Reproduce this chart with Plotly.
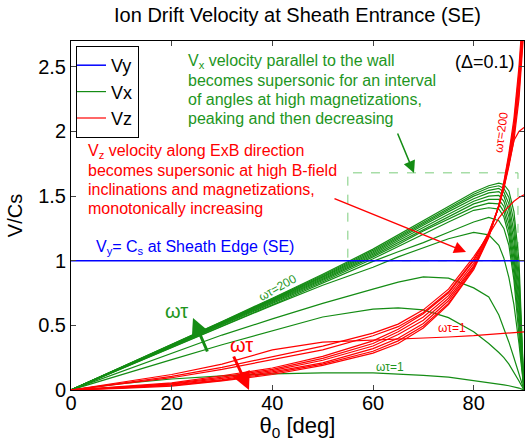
import plotly.graph_objects as go

# ---------------- data ----------------
theta = [0, 10, 20, 30, 40, 50, 60, 65, 70, 75, 80, 83, 85, 86, 87, 88, 89, 90]

# Vx (green) for several magnetizations omega*tau
vx_wt1   = [0, .05, .085, .11, .125, .133, .132, .125, .113, .10, .075, .058, .046, .04, .033, .025, .015, 0]
vx_wt2   = [0, .12, .235, .35, .455, .565, .625, .635, .62, .56, .45, .36, .29, .25, .20, .14, .07, 0]
vx_wt3   = [0, .14, .285, .425, .55, .67, .78, .835, .875, .865, .79, .72, .58, .48, .37, .25, .13, 0]
vx_wt5   = [0, .165, .33, .49, .655, .81, .95, 1.03, 1.10, 1.17, 1.22, 1.20, 1.12, 1.02, .87, .66, .36, 0]
vx_wt7   = [0, .167, .33, .495, .66, .825, .995, 1.07, 1.14, 1.22, 1.30, 1.335, 1.31, 1.25, 1.12, .85, .45, 0]
vx_wt10  = [0, .168, .334, .502, .67, .838, 1.015, 1.11, 1.21, 1.30, 1.39, 1.41, 1.40, 1.34, 1.19, .90, .50, 0]
vx_wt15  = [0, .169, .337, .507, .677, .847, 1.03, 1.125, 1.23, 1.325, 1.415, 1.445, 1.44, 1.38, 1.24, .96, .56, 0]
vx_wt20  = [0, .170, .34, .512, .684, .856, 1.04, 1.14, 1.245, 1.345, 1.44, 1.475, 1.475, 1.42, 1.29, 1.02, .62, 0]
vx_wt30  = [0, .171, .342, .516, .69, .865, 1.05, 1.155, 1.26, 1.36, 1.46, 1.50, 1.505, 1.46, 1.34, 1.08, .68, 0]
vx_wt50  = [0, .172, .344, .52, .695, .873, 1.06, 1.17, 1.275, 1.38, 1.48, 1.525, 1.535, 1.50, 1.39, 1.15, .75, 0]
vx_wt70  = [0, .173, .346, .524, .70, .88, 1.07, 1.18, 1.29, 1.395, 1.50, 1.545, 1.56, 1.53, 1.44, 1.22, .82, 0]
vx_wt100 = [0, .174, .348, .527, .705, .888, 1.08, 1.19, 1.30, 1.41, 1.515, 1.565, 1.58, 1.56, 1.49, 1.30, .90, 0]
vx_wt200 = [0, .175, .35, .53, .71, .895, 1.09, 1.20, 1.31, 1.42, 1.53, 1.58, 1.60, 1.59, 1.54, 1.38, 1.00, 0]

# Vz (red)
vz_wt1   = [0, .06, .12, .20, .31, .37, .385, .39, .40, .41, .42, .43, .435, .44, .443, .446, .448, .45]
vz_wt2   = [0, .055, .105, .175, .26, .34, .44, .51, .62, .78, 1.03, 1.20, 1.33, 1.38, 1.42, 1.46, 1.49, 1.51]
vz_wt3   = [0, .05, .095, .16, .235, .31, .42, .49, .60, .76, 1.01, 1.21, 1.42, 1.57, 1.75, 1.93, 2.0, 2.03]
vz_wt5   = [0, .025, .055, .11, .17, .26, .38, .47, .59, .75, 1.00, 1.22, 1.42, 1.56, 1.73, 1.93, 2.25, 2.8]
vz_wt10  = [0, .022, .05, .10, .16, .245, .36, .45, .565, .73, .98, 1.21, 1.42, 1.57, 1.75, 1.97, 2.30, 2.85]
vz_wt20  = [0, .02, .045, .09, .15, .23, .34, .43, .54, .71, .96, 1.20, 1.42, 1.58, 1.77, 2.00, 2.35, 2.9]
vz_wt50  = [0, .017, .04, .08, .14, .21, .32, .40, .515, .69, .95, 1.19, 1.42, 1.59, 1.79, 2.03, 2.40, 2.95]
vz_wt100 = [0, .015, .035, .075, .13, .20, .30, .38, .495, .67, .94, 1.19, 1.43, 1.60, 1.81, 2.06, 2.45, 3.0]
vz_wt200 = [0, .012, .03, .07, .12, .19, .285, .36, .48, .66, .93, 1.18, 1.43, 1.61, 1.83, 2.10, 2.50, 3.05]

# Vy (blue)
vy_theta = [0, 90]
vy_values = [1.0, 1.0]

vx_series = [vx_wt1, vx_wt2, vx_wt3, vx_wt5, vx_wt7, vx_wt10, vx_wt15, vx_wt20,
             vx_wt30, vx_wt50, vx_wt70, vx_wt100, vx_wt200]
vz_series = [vz_wt1, vz_wt2, vz_wt3, vz_wt5, vz_wt10, vz_wt20, vz_wt50, vz_wt100, vz_wt200]

# ---------------- styling ----------------
GREEN = 'rgb(20,140,20)'
GREEN_TXT = 'rgb(30,150,30)'
RED = 'rgb(255,0,0)'
BLUE = 'rgb(0,0,255)'
FONT = 'Arial, Liberation Sans, Helvetica, sans-serif'

# plot area geometry in pixels (for placing annotations)
L, T, W, H = 71, 41, 453, 349
XMAX, YMAX = 90, 2.7


def px(xp):
    return (xp - L) / W * XMAX


def py(yp):
    return (T + H - yp) / H * YMAX


fig = go.Figure()

for i, s in enumerate(vx_series):
    fig.add_trace(go.Scatter(x=theta, y=s, mode='lines', name='Vx',
                             line=dict(color=GREEN, width=1.2),
                             legendgroup='vx', showlegend=(i == 0), legendrank=2))
for i, s in enumerate(vz_series):
    fig.add_trace(go.Scatter(x=theta, y=s, mode='lines', name='Vz',
                             line=dict(color=RED, width=1.2),
                             legendgroup='vz', showlegend=(i == 0), legendrank=3))
fig.add_trace(go.Scatter(x=vy_theta, y=vy_values, mode='lines', name='Vy',
                         line=dict(color=BLUE, width=1.5), legendrank=1))

# dashed box
fig.add_shape(type='rect', x0=55.0, x1=88.8, y0=1.0, y1=1.68, xref='x', yref='y',
              line=dict(color='rgba(110,200,110,0.9)', width=1, dash='dash'), layer='below')

ann = []


def text(xp, yp, t, color, size, xanchor='left', angle=0):
    ann.append(dict(x=px(xp), y=py(yp), xref='x', yref='y', text=t, showarrow=False,
                    xanchor=xanchor, yanchor='middle', textangle=angle,
                    font=dict(color=color, size=size, family=FONT)))


green_lines = ['V<sub>x</sub> velocity parallel to the wall',
               'becomes supersonic for an interval',
               'of angles at high magnetizations,',
               'peaking and then decreasing']
for t, yp in zip(green_lines, [61, 80, 99, 118]):
    text(186, yp, t, GREEN_TXT, 16)

red_lines = ['V<sub>z</sub> velocity along ExB direction',
             'becomes supersonic at high B-field',
             'inclinations and magnetizations,',
             'monotonically increasing']
for t, yp in zip(red_lines, [151, 170, 189, 208]):
    text(86, yp, t, RED, 16)

text(94, 247, 'V<sub>y</sub>= C<sub>s</sub> at Sheath Edge (SE)', BLUE, 16)
text(485, 62, '(Δ=0.1)', 'black', 18, xanchor='center')

text(277, 288, 'ωτ=200', GREEN_TXT, 12, xanchor='center', angle=-29)
text(390, 367, 'ωτ=1', GREEN_TXT, 12, xanchor='center')
text(452, 328, 'ωτ=1', RED, 12, xanchor='center')
text(501, 133, 'ωτ=200', RED, 12, xanchor='center', angle=-82)
text(176, 311, 'ωτ', GREEN_TXT, 20, xanchor='center')
text(241, 345, 'ωτ', RED, 20, xanchor='center')


def arrow(x0, y0, x1, y1, color, width, size):
    ann.append(dict(x=px(x1), y=py(y1), ax=px(x0), ay=py(y0), xref='x', yref='y',
                    axref='x', ayref='y', text='', showarrow=True, arrowhead=2,
                    arrowsize=size, arrowwidth=width, arrowcolor=color))


arrow(397, 132, 414, 173, GREEN, 1.5, 1.6)
arrow(333, 198, 466, 252, RED, 1.5, 1.6)
arrow(208, 353, 193, 318, GREEN, 3, 1.2)
arrow(233, 355, 249, 390, RED, 3, 1.2)

fig.update_layout(
    width=525, height=441,
    margin=dict(l=L, r=525 - L - W, t=T, b=441 - T - H),
    paper_bgcolor='white', plot_bgcolor='white',
    font=dict(family=FONT, color='black', size=20),
    title=dict(text='Ion Drift Velocity at Sheath Entrance (SE)', x=(L + W / 2) / 525,
               xanchor='center', y=1 - 15 / 441, yanchor='middle',
               font=dict(size=20, color='black')),
    annotations=ann,
    legend=dict(x=(76 - L) / W, y=1 - (46 - T) / H, xanchor='left', yanchor='top',
                bordercolor='black', borderwidth=1, bgcolor='white',
                font=dict(size=18), itemwidth=30, tracegroupgap=0,
                indentation=-6),
    showlegend=True,
)

fig.update_xaxes(range=[0, XMAX], tickvals=[0, 20, 40, 60, 80], ticks='inside', ticklen=5,
                 showline=True, linecolor='black', linewidth=1, mirror='ticks',
                 showgrid=False, zeroline=False, tickfont=dict(size=20),
                 ticklabelstandoff=-5,
                 title=dict(text='θ<sub>0</sub> [deg]', font=dict(size=22), standoff=0))
fig.update_yaxes(range=[0, YMAX], tickvals=[0, 0.5, 1, 1.5, 2, 2.5],
                 ticktext=['0', '0.5', '1', '1.5', '2', '2.5'], ticks='inside', ticklen=5,
                 showline=True, linecolor='black', linewidth=1, mirror='ticks',
                 showgrid=False, zeroline=False, tickfont=dict(size=20),
                 title=dict(text='V/Cs', font=dict(size=20), standoff=10))

fig.write_html('out.html')
